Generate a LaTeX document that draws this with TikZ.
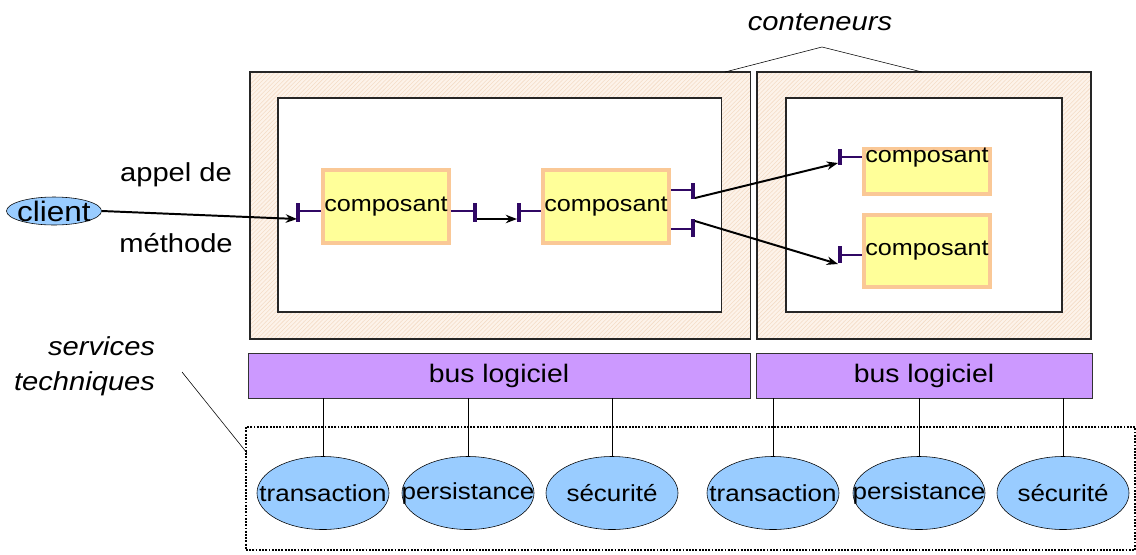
\documentclass[tikz,border=0pt]{standalone}
\usepackage{fontspec}
\setmainfont[FakeStretch=1.12]{Liberation Sans}
\usetikzlibrary{positioning,shapes.geometric,patterns,arrows.meta}

\definecolor{hatchbg}{RGB}{253,243,234}
\definecolor{hatchline}{RGB}{244,220,198}
\definecolor{busfill}{RGB}{204,153,255}
\definecolor{ellfill}{RGB}{153,204,255}
\definecolor{compfill}{RGB}{255,255,153}
\definecolor{compline}{RGB}{250,200,150}
\definecolor{portcol}{RGB}{48,8,100}

\tikzset{
	cont/.style={draw=black!85, line width=0.8pt, preaction={fill=hatchbg}, pattern=north east lines, pattern color=hatchline, inner sep=0pt},
	inbox/.style={draw=black!85, line width=0.8pt, fill=white, inner sep=0pt},
	comp/.style={draw=compline, line width=2.8pt, fill=compfill, minimum width=3.15cm, inner sep=0pt, font=\fontsize{16}{19}\selectfont},
	comptext/.style={font=\fontsize{16}{19}\selectfont},
	serv/.style={ellipse, draw, thin, fill=ellfill, minimum width=3.3cm, minimum height=1.825cm, inner sep=0pt},
	servtext/.style={font=\fontsize{16.5}{19}\selectfont},
	bus/.style={draw=black!80, thin, fill=busfill, minimum height=1.125cm, inner sep=0pt, font=\fontsize{18}{21}\selectfont},
	port/.style={draw=portcol, line width=1.4pt},
	portbar/.style={draw=portcol, line width=2.8pt},
	call/.style={draw, line width=1.4pt, -{Stealth[length=8pt,width=6pt]}},
	lbl/.style={font=\fontsize{18.5}{25}\selectfont},
}

\begin{document}
\begin{tikzpicture}[x=0.025cm,y=-0.025cm]
	\useasboundingbox (0,0) rectangle (1136,554);

	\node[cont, minimum width=12.5cm, minimum height=6.675cm] (o1) at (500,205.5) {};
	\node[inbox, minimum width=11.075cm, minimum height=5.35cm] (i1) at (499.5,205) {};
	\node[cont, minimum width=8.35cm, minimum height=6.675cm] (o2) at (924,205.5) {};
	\node[inbox, minimum width=6.9cm, minimum height=5.35cm] (i2) at (924,205) {};

	\node[lbl, font=\fontsize{18.5}{25}\selectfont\itshape] (ct) at (820,22) {conteneurs};
	\coordinate (k0) at (822,47);
	\draw[thin] (725,72) -- (k0) -- (922,72);

	\node[comp, minimum height=1.825cm] (c1) at (386,206.5) {composant};
	\node[comp, minimum height=1.825cm] (c2) at (606,206.5) {composant};
	\node[comp, minimum height=1.125cm] (c3) at (927,171.5) {};
	\node[comptext] (c3t) at (927,158) {composant};
	\node[comp, minimum height=1.8cm] (c4) at (927,251) {composant};

	\draw[port] (298,211) -- (c1.west |- 0,211);
	\draw[portbar] (298,203) -- (298,222);
	\draw[port] (c1.east |- 0,211) -- (475,211);
	\draw[portbar] (475,203) -- (475,222);
	\draw[port] (519,211) -- (c2.west |- 0,211);
	\draw[portbar] (519,203) -- (519,222);
	\draw[port] (c2.east |- 0,190) -- (693,190);
	\draw[portbar] (693,183) -- (693,199);
	\draw[port] (c2.east |- 0,229) -- (693,229);
	\draw[portbar] (693,219) -- (693,237);
	\draw[port] (840,157) -- (c3.west |- 0,157);
	\draw[portbar] (840,149) -- (840,165);
	\draw[port] (840,255) -- (c4.west |- 0,255);
	\draw[portbar] (840,246) -- (840,263);

	\coordinate (p1) at (297,219);
	\coordinate (p2) at (477,219);
	\coordinate (p3) at (517,219);
	\coordinate (p4) at (695,198);
	\coordinate (p5) at (695,221);
	\coordinate (p6) at (838,163);
	\coordinate (p7) at (838,264);

	\node[ellipse, draw, thin, fill=ellfill, minimum width=2.375cm, minimum height=0.7cm, inner sep=0pt, label={[font=\fontsize{20}{24}\selectfont]center:client}] (client) at (54,211) {};
	\node[lbl] (ap) at (176,175) {appel de};
	\node[lbl] (me) at (176,243) {méthode};

	\draw[call] (client.east) -- (p1);
	\draw[call] (p2) -- (p3);
	\draw[call] (p4) -- (p6);
	\draw[call] (p5) -- (p7);

	\node[bus, minimum width=12.55cm] (b1) at (499,375.5) {bus logiciel};
	\node[bus, minimum width=8.4cm] (b2) at (924,375.5) {bus logiciel};

	\node[draw, densely dotted, line width=1.3pt, minimum width=22.225cm, minimum height=3.075cm, inner sep=0pt] (st) at (690.5,488.5) {};
	\node[lbl, font=\fontsize{18.5}{25}\selectfont\itshape, align=right, anchor=east] (sv) at (160,366) {services\\techniques};
	\coordinate (s0) at (182,372);
	\coordinate (s1) at (247,453);
	\draw[thin] (s0) -- (s1);

	\node[serv, label={[servtext]center:transaction}] (e1) at (323,493) {};
	\node[serv, label={[servtext]center:persistance}] (e2) at (468,493) {};
	\node[serv, label={[servtext]center:sécurité}] (e3) at (612,493) {};
	\node[serv, label={[servtext]center:transaction}] (e4) at (773,493) {};
	\node[serv, label={[servtext]center:persistance}] (e5) at (919,493) {};
	\node[serv, label={[servtext]center:sécurité}] (e6) at (1063,493) {};

	\foreach \e in {e1,e2,e3}
		\draw[thin] (\e.north) -- (\e.north |- b1.south);
	\foreach \e in {e4,e5,e6}
		\draw[thin] (\e.north) -- (\e.north |- b2.south);
\end{tikzpicture}
\end{document}
